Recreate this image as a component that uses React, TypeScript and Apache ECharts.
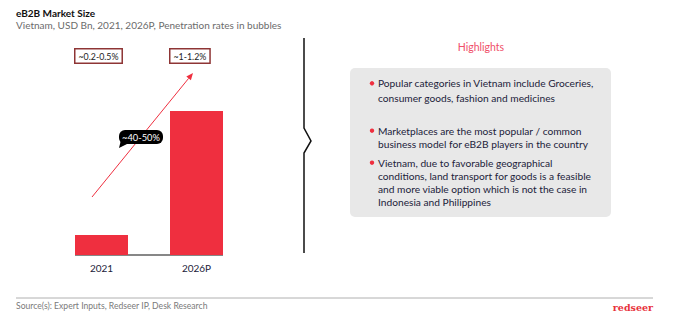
import React, { useEffect, useRef } from "react";
import * as echarts from "echarts";

const categories = ["2021", "2026P"];
const marketSize = [0.5, 3.6];
const penetration = ["~0.2-0.5%", "~1-1.2%"];
const cagrLabel = "~40-50%";
const titleText = "eB2B Market Size";
const subtitleText = "Vietnam, USD Bn, 2021, 2026P, Penetration rates in bubbles";
const highlightsTitle = "Highlights";
const highlights = [
  ["Popular categories in Vietnam include Groceries,", "consumer goods, fashion and medicines"],
  ["Marketplaces are the most popular / common", "business model for eB2B players in the country"],
  [
    "Vietnam, due to favorable geographical",
    "conditions, land transport for goods is a feasible",
    "and more viable option which is not the case in",
    "Indonesia and Philippines",
  ],
];
const sourceText = "Source(s): Expert Inputs, Redseer IP, Desk Research";

const FONT = "Lato, 'Noto Sans', sans-serif";
const RED = "#ef2f3f";
const DARK = "#22223a";

export default function App() {
  const ref = useRef<HTMLDivElement>(null);
  useEffect(() => {
    if (!ref.current) return;
    const chart = echarts.init(ref.current, null, { renderer: "svg" });
    const gridLeft = 54;
    const gridTop = 55;
    const gridWidth = 190;
    const gridHeight = 200;
    const barWidth = 53;

    const option: any = {
      animation: false,
      backgroundColor: "#ffffff",
      textStyle: { fontFamily: FONT },
      grid: { left: gridLeft, top: gridTop, width: gridWidth, height: gridHeight },
      xAxis: {
        type: "category",
        data: categories,
        axisLine: { show: false },
        axisTick: { show: false },
        axisLabel: { color: DARK, fontSize: 10, margin: 8, fontFamily: FONT },
      },
      yAxis: { type: "value", min: 0, max: 5, show: false, splitLine: { show: false } },
      series: [
        {
          type: "bar",
          data: marketSize,
          barWidth,
          itemStyle: { color: RED },
        },
      ],
    };
    chart.setOption(option);

    const axisY = chart.convertToPixel({ yAxisIndex: 0 }, 0) as number;
    const centers = categories.map((c) => chart.convertToPixel({ xAxisIndex: 0 }, c) as number);
    const leftEdges = centers.map((c) => c - barWidth / 2);

    const graphics: any[] = [];
    // title
    graphics.push({
      type: "text",
      left: 16,
      top: 8,
      style: { text: titleText, fontSize: 10, fontWeight: "bold", fill: "#111", fontFamily: FONT },
    });
    graphics.push({
      type: "text",
      left: 16,
      top: 20,
      style: { text: subtitleText, fontSize: 10, fill: "#6b6b6b", fontFamily: FONT },
    });
    // axis baseline
    graphics.push({
      type: "line",
      shape: { x1: leftEdges[0], y1: axisY, x2: leftEdges[1] + barWidth, y2: axisY },
      style: { stroke: "#111", lineWidth: 1.2 },
    });
    // penetration boxes
    penetration.forEach((p, i) => {
      graphics.push({
        type: "text",
        x: leftEdges[i] + 0.5,
        y: 49.5,
        style: {
          text: p,
          fontSize: 8.8,
          fill: "#222",
          fontFamily: FONT,
          backgroundColor: "#fff",
          borderColor: "#8e3535",
          borderWidth: 1.5,
          padding: [2, 3, 2, 3],
        },
      });
    });
    // arrow
    graphics.push({
      type: "line",
      shape: { x1: 92, y1: 197, x2: 188.6, y2: 78.4 },
      style: { stroke: RED, lineWidth: 1 },
    });
    graphics.push({
      type: "polygon",
      shape: { points: [[193, 73], [190.9, 80.3], [186.3, 76.5]] },
      style: { fill: RED },
    });
    // CAGR bubble
    graphics.push({
      type: "polygon",
      shape: { points: [[121, 140], [119, 148], [128, 143.5]] },
      style: { fill: "#000" },
    });
    graphics.push({
      type: "rect",
      shape: { x: 119, y: 130, width: 44, height: 14, r: 6 },
      style: { fill: "#000" },
    });
    graphics.push({
      type: "text",
      x: 141,
      y: 137,
      style: {
        text: cagrLabel,
        fontSize: 9.3,
        fill: "#fff",
        fontFamily: FONT,
        align: "center",
        verticalAlign: "middle",
      },
    });
    // separator with brace
    graphics.push({
      type: "polyline",
      shape: { points: [[304, 38], [304, 128], [311, 141], [304, 153], [304, 253]] },
      style: { stroke: "#111", lineWidth: 1.5, fill: null },
    });
    // highlights
    graphics.push({
      type: "text",
      x: 481,
      y: 47,
      style: {
        text: highlightsTitle,
        fontSize: 10.5,
        fill: "#f0506a",
        fontFamily: FONT,
        align: "center",
        verticalAlign: "middle",
      },
    });
    graphics.push({
      type: "rect",
      shape: { x: 350, y: 68, width: 261, height: 149, r: 5 },
      style: { fill: "#e8e8e8" },
    });
    const firstLineY = [83.3, 130.7, 162.7];
    const lineHeights = [14.4, 13, 13.1];
    highlights.forEach((lines, bi) => {
      graphics.push({
        type: "circle",
        shape: { cx: 372, cy: firstLineY[bi], r: 2.2 },
        style: { fill: RED },
      });
      lines.forEach((ln, li) => {
        graphics.push({
          type: "text",
          x: 378,
          y: firstLineY[bi] + li * lineHeights[bi],
          style: {
            text: ln,
            fontSize: 10.2,
            fill: DARK,
            fontFamily: FONT,
            verticalAlign: "middle",
          },
        });
      });
    });
    // footer
    graphics.push({
      type: "line",
      shape: { x1: 16, y1: 298, x2: 653, y2: 298 },
      style: { stroke: "#b0b0b0", lineWidth: 1 },
    });
    graphics.push({
      type: "text",
      x: 16,
      y: 306,
      style: { text: sourceText, fontSize: 8.6, fill: "#7a7a7a", fontFamily: FONT, verticalAlign: "middle" },
    });
    graphics.push({
      type: "text",
      x: 653,
      y: 307,
      style: {
        text: "redseer",
        fontSize: 9.5,
        fontWeight: "bold",
        fill: "#e8323c",
        fontFamily: "'DejaVu Serif', 'Liberation Serif', serif",
        align: "right",
        verticalAlign: "middle",
      },
    });

    chart.setOption({ graphic: graphics });
    return () => chart.dispose();
  }, []);

  return (
    <div
      ref={ref}
      style={{ position: "fixed", left: 0, top: 0, width: 674, height: 326 }}
    />
  );
}
